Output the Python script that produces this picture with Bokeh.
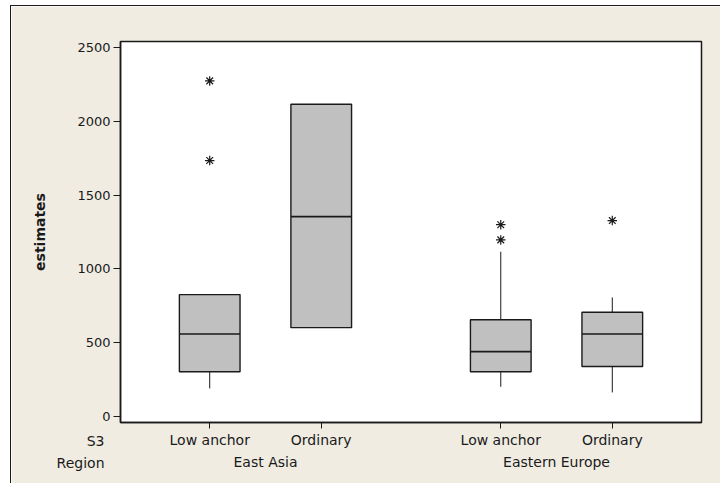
import numpy as np
from bokeh.plotting import figure
from bokeh.models import FactorRange, Range1d, FixedTicker, Label
from bokeh.embed import file_html
from bokeh.resources import INLINE

# ---- data ----
regions = ["East Asia", "East Asia", "Eastern Europe", "Eastern Europe"]
s3 = ["Low anchor", "Ordinary", "Low anchor", "Ordinary"]
lower_whisker = [190, 602, 201, 163]
q1 = [303, 602, 303, 339]
median = [559, 1355, 439, 559]
q3 = [826, 2117, 656, 706]
upper_whisker = [826, 2117, 1117, 807]
outlier_region = ["East Asia", "East Asia", "Eastern Europe", "Eastern Europe", "Eastern Europe"]
outlier_s3 = ["Low anchor", "Low anchor", "Low anchor", "Low anchor", "Ordinary"]
outlier_values = [2275, 1735, 1300, 1197, 1328]
y_ticks = [0, 500, 1000, 1500, 2000, 2500]
row_titles = ["S3", "Region"]

# ---- layout ----
Y0, Y1 = -41, 2542
X_PAD = 0.30
W, H = 710, 478
ML, MR, MT, MB = 109, 20, 35, 62
FONT = "DejaVu Sans"
INK = "#1a1a1a"
frame_w = W - ML - MR
frame_h = H - MT - MB
ppu_y = frame_h / (Y1 - Y0)

factors = list(zip(regions, s3))
GROUP_PAD = 0.61
xr = FactorRange(*factors, factor_padding=0, group_padding=GROUP_PAD,
                 range_padding=X_PAD, range_padding_units="absolute")
x_span = len(factors) + GROUP_PAD * (len(set(regions)) - 1) + 2 * X_PAD
ppu_x = frame_w / x_span

p = figure(x_range=xr, y_range=Range1d(Y0, Y1), width=W, height=H,
           output_backend="svg", toolbar_location=None,
           min_border_left=ML, min_border_right=MR,
           min_border_top=MT, min_border_bottom=MB)
p.styles = {"margin-left": "10px", "margin-top": "5px",
            "border-left": "1px solid #1a1a1a", "border-top": "1px solid #1a1a1a"}

p.background_fill_color = "white"
p.border_fill_color = "#F0ECE2"
p.outline_line_color = INK
p.outline_line_width = 1.5
p.xgrid.visible = False
p.ygrid.visible = False

# boxes
p.vbar(x=factors, top=q3, bottom=q1, width=0.544, fill_color="#C0C0C0",
       line_color=INK, line_width=1.4)
p.rect(x=factors, y=median, width=0.544, height=1.7, height_units="screen",
       fill_color=INK, line_color=None)
p.segment(x0=factors, y0=q3, x1=factors, y1=upper_whisker, line_color=INK, line_width=1)
p.segment(x0=factors, y0=q1, x1=factors, y1=lower_whisker, line_color=INK, line_width=1)

# outliers
p.scatter(x=list(zip(outlier_region, outlier_s3)), y=outlier_values, marker="asterisk",
          angle=np.pi / 2, size=9.5, line_color=INK, line_width=1.2)

# axes
for ax in (p.xaxis[0], p.yaxis[0]):
    ax.axis_line_color = INK
    ax.axis_line_width = 1.5
    ax.major_tick_line_color = INK
    ax.major_tick_in = 0
    ax.minor_tick_line_color = None
    ax.major_label_text_font = FONT
    ax.major_label_text_color = INK

xa = p.xaxis[0]
xa.major_tick_out = 6
xa.major_label_text_font_size = "14px"
xa.major_label_standoff = 3
xa.group_text_font = FONT
xa.group_text_font_size = "14px"
xa.group_text_font_style = "normal"
xa.group_text_color = INK
xa.separator_line_color = None

ya = p.yaxis[0]
ya.ticker = FixedTicker(ticks=y_ticks)
ya.major_tick_out = 7
ya.major_label_text_font_size = "13px"
ya.major_label_standoff = 3
ya.axis_label = "estimates"
ya.axis_label_text_font = FONT
ya.axis_label_text_font_size = "14px"
ya.axis_label_text_font_style = "bold"
ya.axis_label_text_color = INK
ya.axis_label_standoff = 26

# row titles of the category axis (placed in a side panel so they are not clipped)
x_title = -X_PAD - 16 / ppu_x
for txt, off in zip(row_titles, (18.5, 40.0)):
    p.add_layout(Label(x=x_title, y=Y0 - off / ppu_y, text=txt,
                       text_align="right", text_baseline="alphabetic", text_font=FONT,
                       text_font_size="14px", text_color=INK), "above")

open("out.html", "w").write(file_html(p, INLINE))
